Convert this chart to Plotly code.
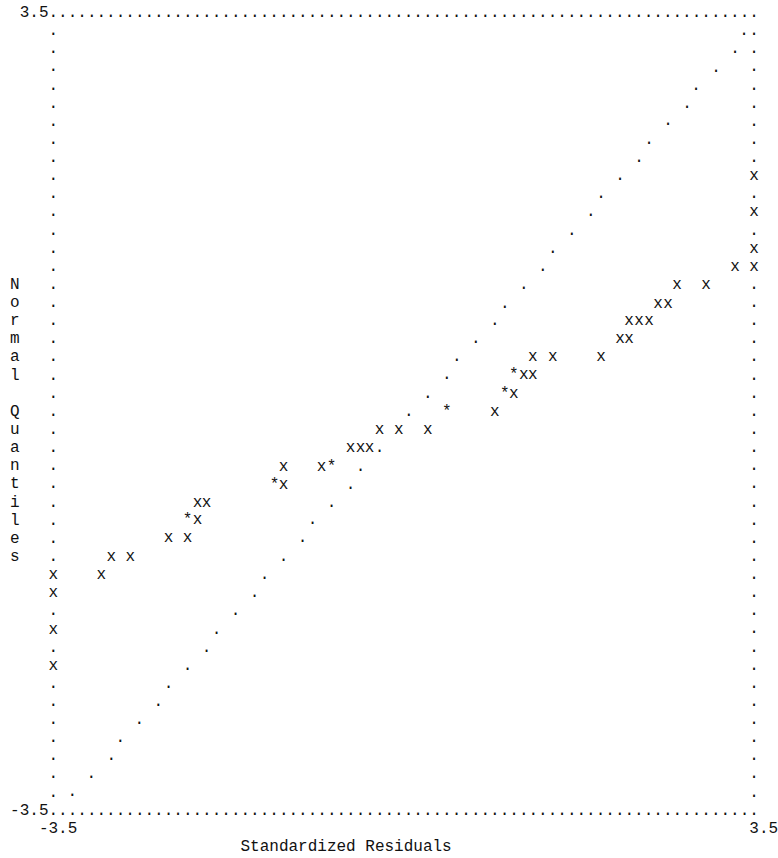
import plotly.graph_objects as go

# Normal probability plot of standardized residuals, printer-plot style.
# 'x' = one observation, '*' = coincident observations.
std_resid = [-3.50, -3.50, -3.50, -3.50, -3.02, -2.92, -2.73, -2.35, -2.16, -2.16,
             -2.06, -2.06, -1.97, -1.29, -1.20, -1.20, -0.82, -0.72, -0.53, -0.43,
             -0.34, -0.24, -0.05, 0.24, 0.43, 0.91, 1.01, 1.10, 1.10, 1.20,
             1.29, 1.29, 1.49, 1.97, 2.16, 2.25, 2.25, 2.35, 2.45, 2.54,
             2.64, 2.73, 3.02, 3.31, 3.50, 3.50, 3.50, 3.50]
normal_q = [-2.23, -1.91, -1.59, -1.43, -1.43, -1.27, -1.27, -1.11, -1.11, -0.95,
            -0.95, -0.80, -0.80, -0.64, -0.64, -0.48, -0.48, -0.48, -0.32, -0.32,
            -0.32, -0.16, -0.16, -0.16, 0.00, 0.00, 0.16, 0.16, 0.32, 0.32,
            0.32, 0.48, 0.48, 0.48, 0.64, 0.64, 0.80, 0.80, 0.80, 0.95,
            0.95, 1.11, 1.11, 1.27, 1.27, 1.43, 1.75, 2.07]
point_sym = ["x", "x", "x", "x", "x", "x", "x", "x", "x", "*",
             "x", "x", "x", "*", "x", "x", "x", "*", "x", "x",
             "x", "x", "x", "x", "*", "x", "*", "x", "*", "x",
             "x", "x", "x", "x", "x", "x", "x", "x", "x", "x",
             "x", "x", "x", "x", "x", "x", "x", "x"]

# Reference line (expected normal quantiles)
ref_resid = [3.40, 3.31, 3.12, 2.92, 2.83, 2.64, 2.45, 2.35, 2.16, 1.97,
             1.87, 1.68, 1.49, 1.39, 1.20, 1.01, 0.91, 0.72, 0.53, 0.43,
             0.24, 0.05, -0.24, -0.43, -0.53, -0.72, -0.91, -1.01, -1.20, -1.39,
             -1.49, -1.68, -1.87, -1.97, -2.16, -2.35, -2.45, -2.64, -2.83, -2.92,
             -3.12, -3.31]
ref_q = [3.34, 3.18, 3.02, 2.86, 2.70, 2.55, 2.39, 2.23, 2.07, 1.91,
         1.75, 1.59, 1.43, 1.27, 1.11, 0.95, 0.80, 0.64, 0.48, 0.32,
         0.16, 0.00, -0.32, -0.48, -0.64, -0.80, -0.95, -1.11, -1.27, -1.43,
         -1.59, -1.75, -1.91, -2.07, -2.23, -2.39, -2.55, -2.70, -2.86, -3.02,
         -3.18, -3.34]

x_ticks = [-3.5, 3.5]
y_ticks = [-3.5, 3.5]
x_title = "Standardized Residuals"
y_title = "Normal Quantiles"

# Character grid of the printer plot
X_LO, X_HI = -3.5, 3.5
Y_LO, Y_HI = -3.5, 3.5
N_COLS = 73          # print columns between the vertical frame lines
N_ROWS = 44          # print lines between the horizontal frame lines
DX = (X_HI - X_LO) / N_COLS
DY = (Y_HI - Y_LO) / N_ROWS

W, H = 778, 858
CW = 9.6             # character advance (px)
LH = 18.13           # line height (px)
COL0_PX = 53.3       # centre of the left frame column
ROW0_PX = 13.0       # text anchor of the top frame line

px_per_x = CW / DX
px_per_y = LH / DY
x_range = [X_LO - COL0_PX / px_per_x, X_LO + (W - COL0_PX) / px_per_x]
y_range = [Y_HI - (H - ROW0_PX) / px_per_y, Y_HI + ROW0_PX / px_per_y]


def cell(col, row):
    return X_LO + col * DX, Y_HI - row * DY


def grid_pos(x, y):
    return round((x - X_LO) / DX), round((Y_HI - y) / DY)


FONT = dict(family="'Courier New', 'Liberation Mono', monospace", size=16, color="#111111")

fig = go.Figure()


def add_text(xs, ys, txt):
    fig.add_trace(go.Scatter(
        x=xs, y=ys, text=txt, mode="text", textposition="middle center",
        textfont=FONT, hoverinfo="skip", showlegend=False, cliponaxis=False,
    ))


# Frame of dots, leaving cells that hold plotted points
occupied = {grid_pos(x, y) for x, y in zip(std_resid, normal_q)}
frame_cells = [(c, 0) for c in range(N_COLS + 1)] + [(c, N_ROWS) for c in range(N_COLS + 1)]
frame_cells += [(0, r) for r in range(1, N_ROWS)] + [(N_COLS, r) for r in range(1, N_ROWS)]
frame_cells = [fc for fc in frame_cells if fc not in occupied]
fx, fy = zip(*[cell(c, r) for c, r in frame_cells])
add_text(list(fx), list(fy), ["."] * len(fx))

# Reference line
add_text(ref_resid, ref_q, ["."] * len(ref_resid))

# Observations
add_text(std_resid, normal_q, point_sym)

# Vertical-axis tick labels, right-aligned against the frame
for v in y_ticks:
    lab = f"{v:g}"
    row = (Y_HI - v) / DY
    x, y = cell(-len(lab) / 2 - 0.5, row)
    add_text([x], [y], [lab])

# Horizontal-axis tick labels, leading digit under the tick
for v in x_ticks:
    lab = f"{v:g}"
    col = (v - X_LO) / DX
    lead = 1 if lab.startswith("-") else 0
    x, y = cell(col - lead + (len(lab) - 1) / 2, N_ROWS + 1)
    add_text([x], [y], [lab])

# Axis titles
x, y = cell(20 + (len(x_title) - 1) / 2, N_ROWS + 2)
add_text([x], [y], [x_title])

tx, ty, tt = [], [], []
for i, ch in enumerate(y_title):
    if ch != " ":
        x, y = cell(-4, 15 + i)
        tx.append(x)
        ty.append(y)
        tt.append(ch)
add_text(tx, ty, tt)

fig.update_layout(
    width=W, height=H,
    margin=dict(l=0, r=0, t=0, b=0, pad=0),
    paper_bgcolor="white", plot_bgcolor="white",
    xaxis=dict(range=x_range, visible=False, fixedrange=True),
    yaxis=dict(range=y_range, visible=False, fixedrange=True),
    hovermode=False,
)

fig.write_html("out.html", config={"displayModeBar": False, "staticPlot": True})
